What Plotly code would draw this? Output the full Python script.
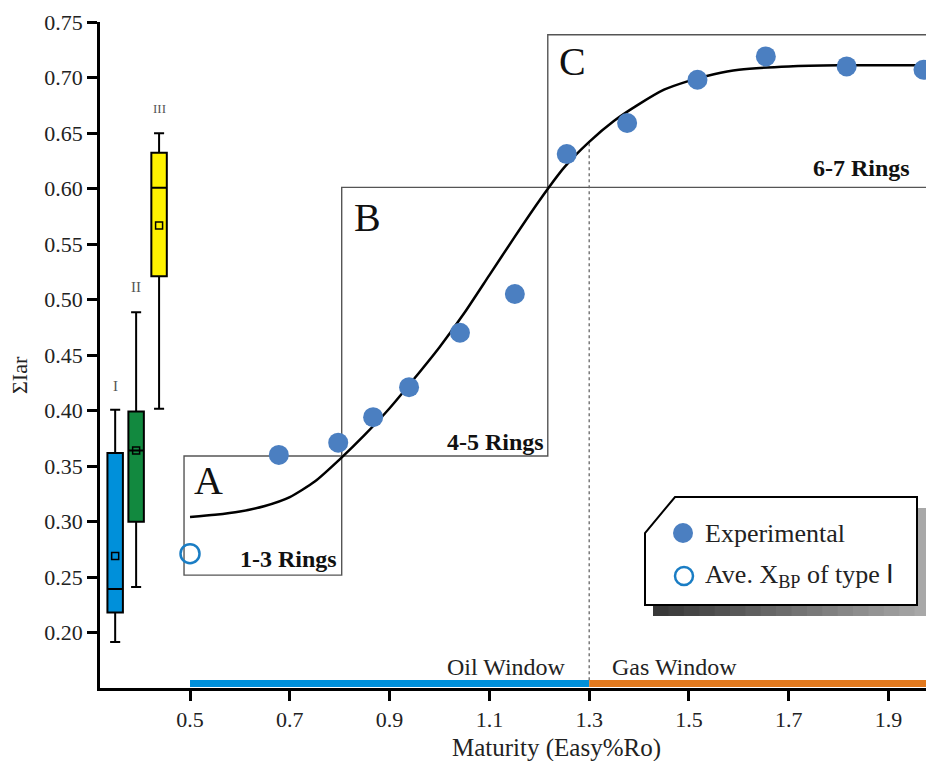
import plotly.graph_objects as go

# ---------------- data ----------------
exp_x = [0.678, 0.797, 0.867, 0.939, 1.041, 1.151, 1.255, 1.376, 1.517, 1.654, 1.816, 1.970]
exp_y = [0.360, 0.371, 0.394, 0.421, 0.470, 0.505, 0.631, 0.659, 0.698, 0.719, 0.710, 0.707]

ave_x = [0.50]
ave_y = [0.271]

fit_x = [0.50, 0.55, 0.60, 0.65, 0.70, 0.75, 0.80, 0.85, 0.90, 0.95, 1.00, 1.05, 1.10, 1.15,
         1.20, 1.25, 1.30, 1.35, 1.40, 1.45, 1.50, 1.55, 1.60, 1.70, 1.80, 1.98]
fit_y = [0.304, 0.306, 0.309, 0.314, 0.322, 0.336, 0.356, 0.378, 0.402, 0.429, 0.457, 0.488,
         0.522, 0.556, 0.589, 0.619, 0.642, 0.661, 0.676, 0.689, 0.697, 0.703, 0.707, 0.710,
         0.711, 0.711]

box_names = ["I", "II", "III"]
box_pos = [0.350, 0.392, 0.438]
box_low = [0.1915, 0.241, 0.4015]
box_q1 = [0.218, 0.2998, 0.521]
box_med = [0.2393, 0.364, 0.6007]
box_q3 = [0.3616, 0.399, 0.6323]
box_high = [0.4006, 0.4885, 0.6497]
box_mean = [0.269, 0.364, 0.5667]
box_colors = ["#0090DA", "#12893F", "#FFF200"]

xtick_vals = [0.5, 0.7, 0.9, 1.1, 1.3, 1.5, 1.7, 1.9]
ytick_vals = [0.20, 0.25, 0.30, 0.35, 0.40, 0.45, 0.50, 0.55, 0.60, 0.65, 0.70, 0.75]

SERIF = "Liberation Serif, Times New Roman, serif"

# ---------------- layout geometry (pixels) ----------------
W, H = 926, 761
ML, MR, MT, MB = 100, 0, 22, 73
PW, PH = W - ML - MR, H - MT - MB


def px(xp):
    return (xp - ML) / PW


def py(yp):
    return (H - MB - yp) / PH


fig = go.Figure()

# rectangles A / B / C
rects = [(0.488, 0.2517, 0.804, 0.359), (0.804, 0.359, 1.217, 0.601), (1.217, 0.601, 2.2, 0.7385)]
shapes = []
for x0, y0, x1, y1 in rects:
    shapes.append(dict(type="rect", xref="x", yref="y", x0=x0, x1=x1, y0=y0, y1=y1,
                       line=dict(color="#555555", width=1.4), layer="below"))

# oil / gas window bars
shapes.append(dict(type="rect", xref="x", yref="y", ysizemode="pixel", yanchor=0.15,
                   x0=0.5, x1=1.3, y0=1, y1=8, fillcolor="#0090DA", line=dict(width=0), layer="above"))
shapes.append(dict(type="rect", xref="x", yref="y", ysizemode="pixel", yanchor=0.15,
                   x0=1.3, x1=2.2, y0=1, y1=8, fillcolor="#E2791E", line=dict(width=0), layer="above"))
# dotted divider
shapes.append(dict(type="line", xref="x", yref="y", x0=1.3, x1=1.3, y0=0.157, y1=0.642,
                   line=dict(color="#666666", width=1.3, dash="dot"), layer="below"))

# legend shadow (gradient strips)
n = 18
sx0, sx1 = 653, 930
for i in range(n):
    a = sx0 + (sx1 - sx0) * i / n
    b = sx0 + (sx1 - sx0) * (i + 1) / n
    g = int(0x38 + (0xa8 - 0x38) * i / (n - 1))
    top = 545 if a < 690 else 508
    shapes.append(dict(type="rect", xref="paper", yref="paper", x0=px(a), x1=px(b) + 0.001,
                       y0=py(616), y1=py(top), fillcolor=f"rgb({g},{g},{g})",
                       line=dict(width=0), layer="above"))
# legend box with cut corner
path = (f"M {px(675)},{py(497)} L {px(917)},{py(497)} L {px(917)},{py(605)} "
        f"L {px(645)},{py(605)} L {px(645)},{py(533)} Z")
shapes.append(dict(type="path", xref="paper", yref="paper", path=path, fillcolor="white",
                   line=dict(color="black", width=2), layer="above"))
# legend markers
shapes.append(dict(type="circle", xref="paper", yref="paper", xsizemode="pixel", ysizemode="pixel",
                   xanchor=px(683), yanchor=py(533), x0=-10, x1=10, y0=-10, y1=10,
                   fillcolor="#4B7FC1", line=dict(width=0), layer="above"))
shapes.append(dict(type="circle", xref="paper", yref="paper", xsizemode="pixel", ysizemode="pixel",
                   xanchor=px(684), yanchor=py(576), x0=-9, x1=9, y0=-9, y1=9,
                   fillcolor="white", line=dict(color="#1A7DC4", width=2.5), layer="above"))

# box plots
for i in range(3):
    fig.add_trace(go.Box(x=[box_pos[i]], q1=[box_q1[i]], median=[box_med[i]], q3=[box_q3[i]],
                         lowerfence=[box_low[i]], upperfence=[box_high[i]],
                         width=0.031, whiskerwidth=0.65, fillcolor=box_colors[i],
                         line=dict(color="black", width=2), boxpoints=False,
                         showlegend=False, hoverinfo="skip"))
fig.add_trace(go.Scatter(x=box_pos, y=box_mean, mode="markers",
                         marker=dict(symbol="square-open", size=7, color="black", line=dict(width=1.5)),
                         showlegend=False, hoverinfo="skip"))

# fit curve
fig.add_trace(go.Scatter(x=fit_x, y=fit_y, mode="lines",
                         line=dict(color="black", width=2.5, shape="spline", smoothing=0.6),
                         showlegend=False, hoverinfo="skip"))
# experimental points
fig.add_trace(go.Scatter(x=exp_x, y=exp_y, mode="markers", marker=dict(color="#4B7FC1", size=20),
                         showlegend=False, hoverinfo="skip", cliponaxis=False))
# average open circle
fig.add_trace(go.Scatter(x=ave_x, y=ave_y, mode="markers",
                         marker=dict(symbol="circle-open", color="#1A7DC4", size=19, line=dict(width=2.5)),
                         showlegend=False, hoverinfo="skip", cliponaxis=False))

ann = []


def A(text, x, y, size, xanchor="center", yanchor="middle", xref="x", yref="y", color="#111111", bold=False, **kw):
    t = f"<b>{text}</b>" if bold else text
    ann.append(dict(text=t, x=x, y=y, xref=xref, yref=yref, xanchor=xanchor, yanchor=yanchor,
                    showarrow=False, font=dict(family=SERIF, size=size, color=color), **kw))


A("A", 0.538, 0.337, 40)
A("B", 0.856, 0.574, 40)
A("C", 1.266, 0.714, 40)
A("1-3 Rings", 0.799, 0.266, 24, xanchor="right", bold=True)
A("4-5 Rings", 1.213, 0.3715, 24, xanchor="right", bold=True)
A("6-7 Rings", 1.7445, 0.6186, 24, xanchor="left", bold=True)
A("Oil Window", 1.2575, 0.169, 24, xanchor="right", color="#222222")
A("Gas Window", 1.342, 0.169, 24, xanchor="left", color="#222222")
# box type labels
A("I", box_pos[0], 0.422, 15, color="#555555")
A("II", box_pos[1], 0.511, 15, color="#555555")
A("III", box_pos[2], 0.672, 13, color="#555555")
# legend text
A("Experimental", px(703), py(533), 26, xanchor="left", xref="paper", yref="paper", color="#222222")
A("Ave. X<sub>BP</sub> of type Ⅰ", px(703), py(576), 26, xanchor="left", xref="paper", yref="paper", color="#222222")
# axis titles
A("Maturity (Easy%Ro)", px(556), py(748), 25, xref="paper", yref="paper", color="#222222")
A("ΣIar", px(19), py(375), 22, xref="paper", yref="paper", color="#222222", textangle=-90)

fig.update_layout(
    width=W, height=H, margin=dict(l=ML, r=MR, t=MT, b=MB, pad=0),
    paper_bgcolor="white", plot_bgcolor="white",
    boxmode="overlay", shapes=shapes, annotations=ann,
    font=dict(family=SERIF, size=22, color="#222222"),
    xaxis=dict(range=[0.3196, 1.975], tickvals=xtick_vals, ticktext=[f"{v:.1f}" for v in xtick_vals],
               showgrid=False, zeroline=False, showline=True, linecolor="black", linewidth=2.5,
               ticks="outside", ticklen=10, tickwidth=2.5, tickcolor="black",
               tickfont=dict(family=SERIF, size=22, color="#222222")),
    yaxis=dict(range=[0.15, 0.75], tickvals=ytick_vals, ticktext=[f"{v:.2f}" for v in ytick_vals],
               showgrid=False, zeroline=False, showline=True, linecolor="black", linewidth=2.5,
               ticks="outside", ticklen=10, tickwidth=2.5, tickcolor="black",
               tickfont=dict(family=SERIF, size=22, color="#222222")),
)

fig.write_html("out.html")
